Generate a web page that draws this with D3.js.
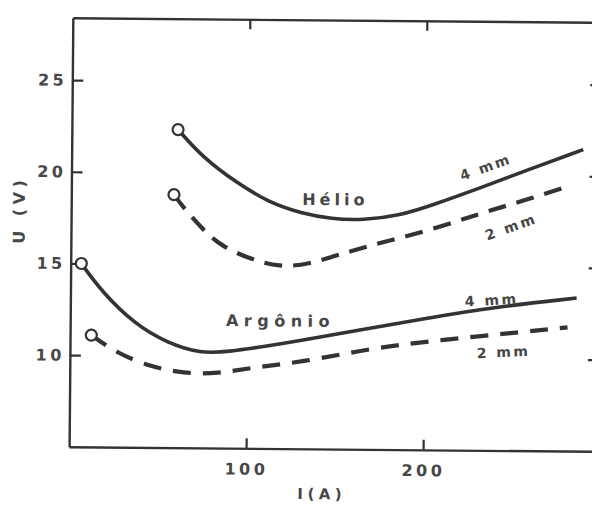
<!DOCTYPE html>
<html>
<head>
<meta charset="utf-8">
<script src="https://cdn.jsdelivr.net/npm/d3@7"></script>
<style>
  html, body { margin: 0; padding: 0; background: #fff; }
  svg { display: block; }
  .lbl { font-family: "DejaVu Sans", sans-serif; font-weight: bold; fill: #474747; }
</style>
</head>
<body>
<svg id="chart" width="592" height="506"></svg>
<script>
// U(V) vs I(A) - arc voltage curves for helium and argon, 4 mm and 2 mm
var heI4 = [60, 74, 93, 112, 130, 147, 165, 185, 204, 232, 260, 289];
var heU4 = [22.35, 20.85, 19.5, 18.4, 17.85, 17.55, 17.5, 17.75, 18.35, 19.35, 20.4, 21.45];

var heI2 = [58, 63, 74, 85, 102, 118, 134, 153, 170, 202, 232, 261, 281];
var heU2 = [18.8, 18.15, 16.95, 16.0, 15.3, 14.9, 15.05, 15.65, 16.15, 16.95, 17.95, 18.8, 19.45];

var arI4 = [6, 17.5, 36, 55, 74, 89, 112, 130, 163, 200, 238, 286];
var arU4 = [15.0, 13.5, 11.75, 10.7, 10.15, 10.25, 10.6, 10.9, 11.5, 12.15, 12.8, 13.35];

var arI2 = [12, 27, 46, 64, 84, 102, 130, 172, 210, 248, 281];
var arU2 = [11.1, 10.1, 9.4, 9.05, 9.05, 9.4, 9.7, 10.55, 11.0, 11.4, 11.75];

var xTicks = [100, 200];
var yTicks = [10, 15, 20, 25];

var svg = d3.select('#chart');
// the scanned figure is a little tilted
var g = svg.append('g').attr('transform', 'rotate(0.5, 330, 230)');

var x = d3.scaleLinear().domain([0, 300]).range([71, 602]);
var y = d3.scaleLinear().domain([5, 28.4]).range([449, 20]);

var ink = '#333';

//================= axes ==================
var styleAxis = function(sel) {
  sel.select('.domain').attr('stroke', ink).attr('stroke-width', 2.4);
  sel.selectAll('.tick line').attr('stroke', ink).attr('stroke-width', 2.2);
  sel.selectAll('.tick text')
     .attr('class', 'lbl')
     .style('font-size', '16px')
     .style('letter-spacing', '3.5px')
     .attr('fill', null);
}

g.append('g')
 .attr('transform', 'translate(0,' + y(5) + ')')
 .call(d3.axisBottom(x).tickValues(xTicks).tickSizeInner(-10).tickSizeOuter(0).tickPadding(15).tickFormat(d3.format('d')))
 .call(styleAxis);

g.append('g')
 .attr('transform', 'translate(0,' + y(28.4) + ')')
 .call(d3.axisTop(x).tickValues(xTicks).tickSizeInner(-10).tickSizeOuter(0).tickFormat(''))
 .call(styleAxis);

g.append('g')
 .attr('transform', 'translate(' + x(0) + ',0)')
 .call(d3.axisLeft(y).tickValues(yTicks).tickSizeInner(-11).tickSizeOuter(0).tickPadding(5).tickFormat(d3.format('d')))
 .call(styleAxis);

g.append('g')
 .attr('transform', 'translate(' + x(300) + ',0)')
 .call(d3.axisRight(y).tickValues(yTicks).tickSizeInner(-13).tickSizeOuter(0).tickFormat(''))
 .call(styleAxis);

// axis titles
g.append('text')
 .attr('class', 'lbl')
 .attr('transform', 'translate(' + (x(0) - 52) + ',' + y(17.9) + ') rotate(-90)')
 .attr('text-anchor', 'middle')
 .attr('dy', '0.35em')
 .style('font-size', '16px')
 .style('letter-spacing', '4.5px')
 .text('U (V)');

g.append('text')
 .attr('class', 'lbl')
 .attr('x', x(143))
 .attr('y', y(5) + 45)
 .attr('text-anchor', 'middle')
 .attr('dy', '0.35em')
 .style('font-size', '15px')
 .style('letter-spacing', '4.5px')
 .text('I(A)');

//================= curves ==================
var line = d3.line()
  .x(function(d) { return x(d[0]); })
  .y(function(d) { return y(d[1]); })
  .curve(d3.curveBasis);

var series = [
  {I: heI4, U: heU4, dash: null},
  {I: heI2, U: heU2, dash: '18,11'},
  {I: arI4, U: arU4, dash: null},
  {I: arI2, U: arU2, dash: '18,12'}
];

series.forEach(function(s) {
  var pts = d3.zip(s.I, s.U);
  g.append('path')
   .datum(pts)
   .attr('d', line)
   .attr('fill', 'none')
   .attr('stroke', ink)
   .attr('stroke-width', s.dash ? 4.2 : 3.6)
   .attr('stroke-dasharray', s.dash)
   .attr('stroke-linecap', 'butt');
  g.append('circle')
   .attr('cx', x(pts[0][0]))
   .attr('cy', y(pts[0][1]))
   .attr('r', 5.5)
   .attr('fill', '#fff')
   .attr('stroke', ink)
   .attr('stroke-width', 2.2);
});

//================= labels ==================
var labels = [
  {t: 'Hélio', i: 130.5, u: 18.3, rot: 0, anchor: 'start', size: 16, sp: 4},
  {t: '4 mm', i: 234, u: 20.45, rot: -20, anchor: 'middle', size: 14, sp: 2.5},
  {t: '2 mm', i: 248.6, u: 17.2, rot: -20, anchor: 'middle', size: 14, sp: 2.5},
  {t: 'Argônio', i: 88, u: 11.66, rot: 0, anchor: 'start', size: 16, sp: 5.5},
  {t: '4 mm', i: 238, u: 13.2, rot: -4, anchor: 'middle', size: 14, sp: 2.5},
  {t: '2 mm', i: 245, u: 10.37, rot: -3, anchor: 'middle', size: 14, sp: 2.5}
];

labels.forEach(function(l) {
  var t = g.append('text')
   .attr('class', 'lbl')
   .attr('transform', 'translate(' + x(l.i) + ',' + y(l.u) + ') rotate(' + l.rot + ')')
   .attr('text-anchor', l.anchor)
   .style('font-size', l.size + 'px')
   .style('letter-spacing', l.sp + 'px')
   .text(l.t);
  if (l.anchor == 'middle') t.attr('dy', '0.35em');
});
</script>
</body>
</html>
